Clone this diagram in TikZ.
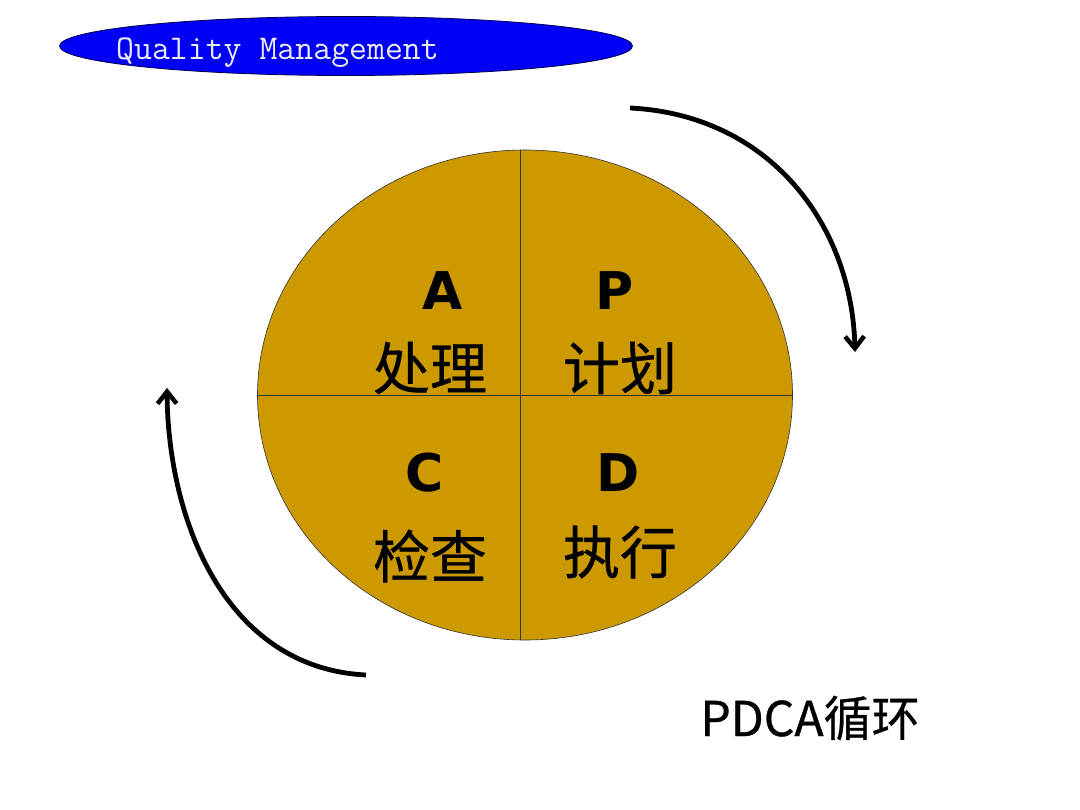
\documentclass[tikz,border=0pt]{standalone}
\usepackage{fontspec}
\newfontfamily\cjk{Noto Sans CJK SC}
\newfontfamily\cjkfb[FakeBold=0.6]{Noto Sans CJK SC}
\newfontfamily\letterfont{DejaVu Sans}
\usetikzlibrary{arrows.meta,shapes.geometric}
\definecolor{gold}{RGB}{204,153,0}
\definecolor{qblue}{RGB}{0,0,245}
\tikzset{
  big/.style={font=\letterfont\bfseries\fontsize{52}{52}\selectfont, inner sep=0pt},
  han/.style={font=\cjkfb\fontsize{57}{57}\selectfont, inner sep=0pt},
  cyc/.style={line width=4.8pt, -{Straight Barb[length=12pt,width=19pt,line width=4.5pt]}}
}
\begin{document}
\begin{tikzpicture}[x=1pt,y=-1pt]
\useasboundingbox[fill=white] (0,0) rectangle (1080,810);
% title
\node[draw=black!70!blue, fill=qblue, ellipse, minimum width=573pt, minimum height=59pt, inner sep=0pt, line width=0.8pt] (title) at (346,46) {};
\node[anchor=base west, text=white!92!black, font=\ttfamily\fontsize{34.8}{34.8}\selectfont, inner sep=0pt] (ttext) at (116,60) {Quality Management};
% circle
\node[draw=black!80, fill=gold, ellipse, minimum width=535pt, minimum height=490pt, inner sep=0pt, line width=0.6pt] (c) at (525,395) {};
\coordinate (top) at (520,150);
\coordinate (bot) at (520,640);
\coordinate (lft) at (258,395);
\coordinate (rgt) at (793,395);
\draw[black!80, line width=0.8pt] (top) -- (bot);
\draw[black!80, line width=0.8pt] (lft) -- (rgt);
% labels
\node[big] (A) at (443,291) {A};
\node[big] (P) at (615,291) {P};
\node[big] (C) at (425,473) {C};
\node[big] (D) at (618,473) {D};
\node[han] (a2) at (430,368) {处理};
\node[han] (p2) at (620,368) {计划};
\node[han] (c2) at (430,556) {检查};
\node[han] (d2) at (620,552) {执行};
% cycle arrows
\coordinate (r1) at (630,108);
\coordinate (r2) at (855,352);
\coordinate (l1) at (366,675);
\coordinate (l2) at (167,388);
\draw[cyc] (r1) .. controls (770,115) and (852,225) .. (r2);
\draw[cyc] (l1) .. controls (225,668) and (168,520) .. (l2);
% caption
\node[font=\cjkfb\fontsize{48}{48}\selectfont, inner sep=0pt] (cap) at (810,718) {PDCA循环};
\end{tikzpicture}
\end{document}
